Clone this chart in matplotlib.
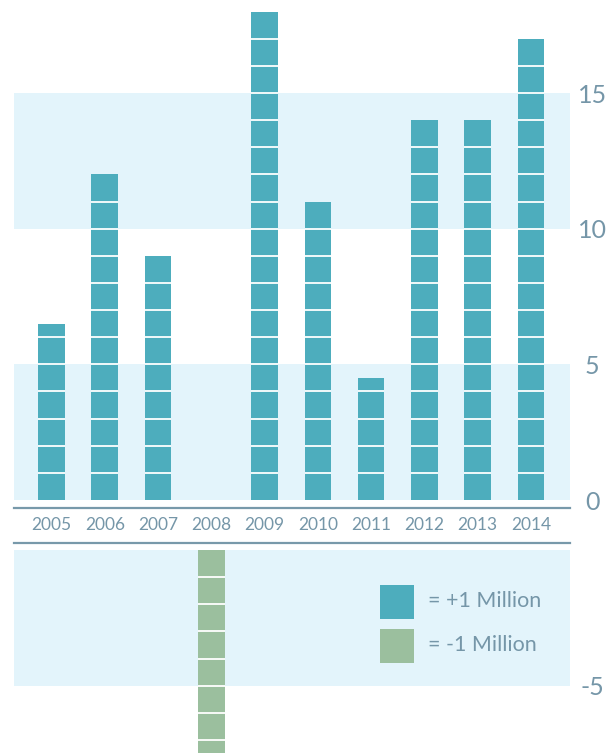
import numpy as np
import matplotlib.pyplot as plt
from matplotlib.lines import Line2D
from matplotlib.patches import Rectangle
import matplotlib.transforms as mtransforms

years = ["2005", "2006", "2007", "2008", "2009", "2010", "2011", "2012", "2013", "2014"]
values = [6.5, 12, 9, -8, 18, 11, 4.5, 14, 14, 17]
upper_ticks = [0, 5, 10, 15]
lower_ticks = [-5]
legend_labels = ["= +1 Million", "= -1 Million"]

teal = "#4dadbd"
green = "#9bbf9e"
band = "#e3f4fb"
txt = "#7596a8"
rule = "#7899aa"

plt.rcParams['font.family'] = ['Lato', 'DejaVu Sans']
plt.rcParams['axes.unicode_minus'] = False

W, H = 615, 753
fig = plt.figure(figsize=(W / 100, H / 100), dpi=100)

px = 27.13  # pixels per unit
left, right = 14, 570
x = np.arange(len(years))
xlim = (-(51.5 - left) / 53.28, 9 + (right - 531) / 53.28)

ax_up = fig.add_axes([left / W, (H - 500) / H, (right - left) / W, 500 / H])
ax_lo = fig.add_axes([left / W, 0, (right - left) / W, (H - 550) / H])
ax_up.set_ylim(0, 500 / px)
ax_lo.set_ylim(-(H - 550) / px, 0)

ax_up.axhspan(0, 5, color=band, zorder=0, lw=0)
ax_up.axhspan(10, 15, color=band, zorder=0, lw=0)
ax_lo.axhspan(-5, 0, color=band, zorder=0, lw=0)

ax_up.set_yticks(upper_ticks)
ax_lo.set_yticks(lower_ticks)

for ax in (ax_up, ax_lo):
    ax.set_xlim(*xlim)
    for s in ax.spines.values():
        s.set_visible(False)
    ax.set_xticks([])
    ax.yaxis.tick_right()
    ax.tick_params(axis='y', length=0, pad=16, labelsize=18, labelcolor=txt)
    for lab in ax.get_yticklabels():
        lab.set_horizontalalignment('center')

bw = 0.5
for xi, v in zip(x, values):
    ax = ax_up if v > 0 else ax_lo
    ax.bar(xi, v, width=bw, color=teal if v > 0 else green, zorder=2, lw=0)
    n = int(np.ceil(abs(v)))
    levels = [np.sign(v) * k for k in range(1, n) if k < abs(v)]
    if levels:
        ax.hlines(levels, xi - bw / 2, xi + bw / 2, colors="white", lw=1.3, zorder=3)

# rules around the year labels
for ypx in (508, 543):
    fig.add_artist(Line2D([left / W, right / W], [1 - ypx / H, 1 - ypx / H],
                          color=rule, lw=1.6))

trans = mtransforms.blended_transform_factory(ax_up.transData, fig.transFigure)
for xi, yr in zip(x, years):
    ax_up.text(xi, 1 - 525 / H, yr, transform=trans, ha='center', va='center',
               fontsize=12.5, color=txt, clip_on=False)

# legend
for i, (lab, c) in enumerate(zip(legend_labels, [teal, green])):
    top = 585 + i * 44
    fig.add_artist(Rectangle((380 / W, 1 - (top + 34) / H), 34 / W, 34 / H,
                             facecolor=c, edgecolor='none', transform=fig.transFigure))
    fig.text(428 / W, 1 - (top + 16) / H, lab, ha='left', va='center',
             fontsize=15.5, color=txt)

fig.savefig("out.png", dpi=100)
